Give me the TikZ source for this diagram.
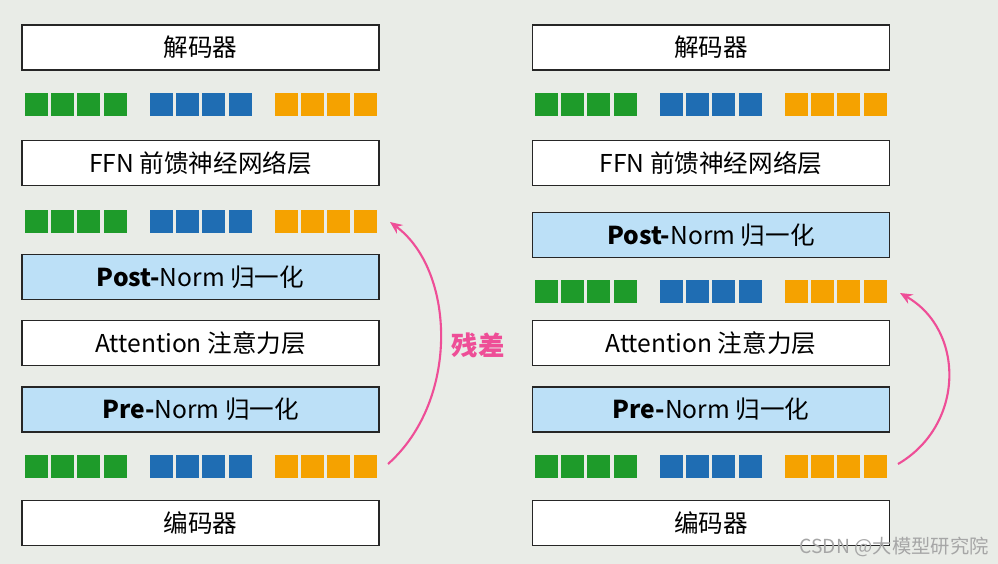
\documentclass[tikz,border=0pt]{standalone}
\usepackage{fontspec}
\setmainfont{Noto Sans CJK SC}
\usetikzlibrary{arrows.meta}
\definecolor{bg}{HTML}{E9ECE7}
\definecolor{gsq}{HTML}{1E9B2A}
\definecolor{bsq}{HTML}{1F6DB3}
\definecolor{osq}{HTML}{F5A200}
\definecolor{lb}{HTML}{BCE0F7}
\definecolor{pk}{HTML}{EE4E97}
\tikzset{
 layer/.style={draw=black!85,line width=1pt,fill=white,minimum width=357\ux,minimum height=45\ux,inner sep=0pt,font=\fontsize{14}{17}\selectfont},
 normbox/.style={layer,fill=lb},
 sq/.style={minimum size=23\ux,inner sep=0pt,draw=none},
 res/.style={pk,line width=1.2pt,-{Stealth[length=7pt,width=6pt]}}
}
\newlength{\ux}\setlength{\ux}{0.02cm}
\newcommand{\sqrow}[3]{%
 \foreach \c/\gx in {gsq/0,bsq/125,osq/250}{
  \foreach \k in {0,1,2,3}{
   \node[sq,fill=\c] (#3-\gx-\k) at ({#1+\gx+\k*26.2+11.5},#2) {};
  }
 }}
\begin{document}
\begin{tikzpicture}[x=0.02cm,y=-0.02cm]
\fill[bg] (0,0) rectangle (998,564);
\useasboundingbox (0,0) rectangle (998,564);
% left
\node[layer] (ldec) at (200.5,47.5) {解码器};
\sqrow{25}{105}{l1}
\node[layer] (lffn) at (200.5,163) {FFN 前馈神经网络层};
\sqrow{25}{222}{l2}
\node[normbox] (lpost) at (200.5,277) {\textbf{Post-}Norm 归一化};
\node[layer] (latt) at (200.5,343) {Attention 注意力层};
\node[normbox] (lpre) at (200.5,409.5) {\textbf{Pre-}Norm 归一化};
\sqrow{25}{466.5}{l3}
\node[layer] (lenc) at (200.5,523) {编码器};
% right
\node[layer] (rdec) at (711,47.5) {解码器};
\sqrow{535}{105}{r1}
\node[layer] (rffn) at (711,163) {FFN 前馈神经网络层};
\node[normbox] (rpost) at (711,235) {\textbf{Post-}Norm 归一化};
\sqrow{535}{291.5}{r2}
\node[layer] (ratt) at (711,343) {Attention 注意力层};
\node[normbox] (rpre) at (711,409.5) {\textbf{Pre-}Norm 归一化};
\sqrow{535}{466.5}{r3}
\node[layer] (renc) at (711,523) {编码器};
% residual arrows
\coordinate (la) at (388,464);
\coordinate (lb) at (390,222);
\draw[res] (la) .. controls (460,400) and (455,270) .. (lb);
\coordinate (ra) at (898,464);
\coordinate (rb) at (900,293);
\draw[res] (ra) .. controls (965,425) and (965,330) .. (rb);
\node[text=pk,font=\fontsize{15}{18}\selectfont\bfseries] (lbl) at (478,345) {残差};
\node[text=black!35,font=\fontsize{11}{13}\selectfont,anchor=east] (wm) at (995,547) {CSDN @大模型研究院};
\end{tikzpicture}
\end{document}
